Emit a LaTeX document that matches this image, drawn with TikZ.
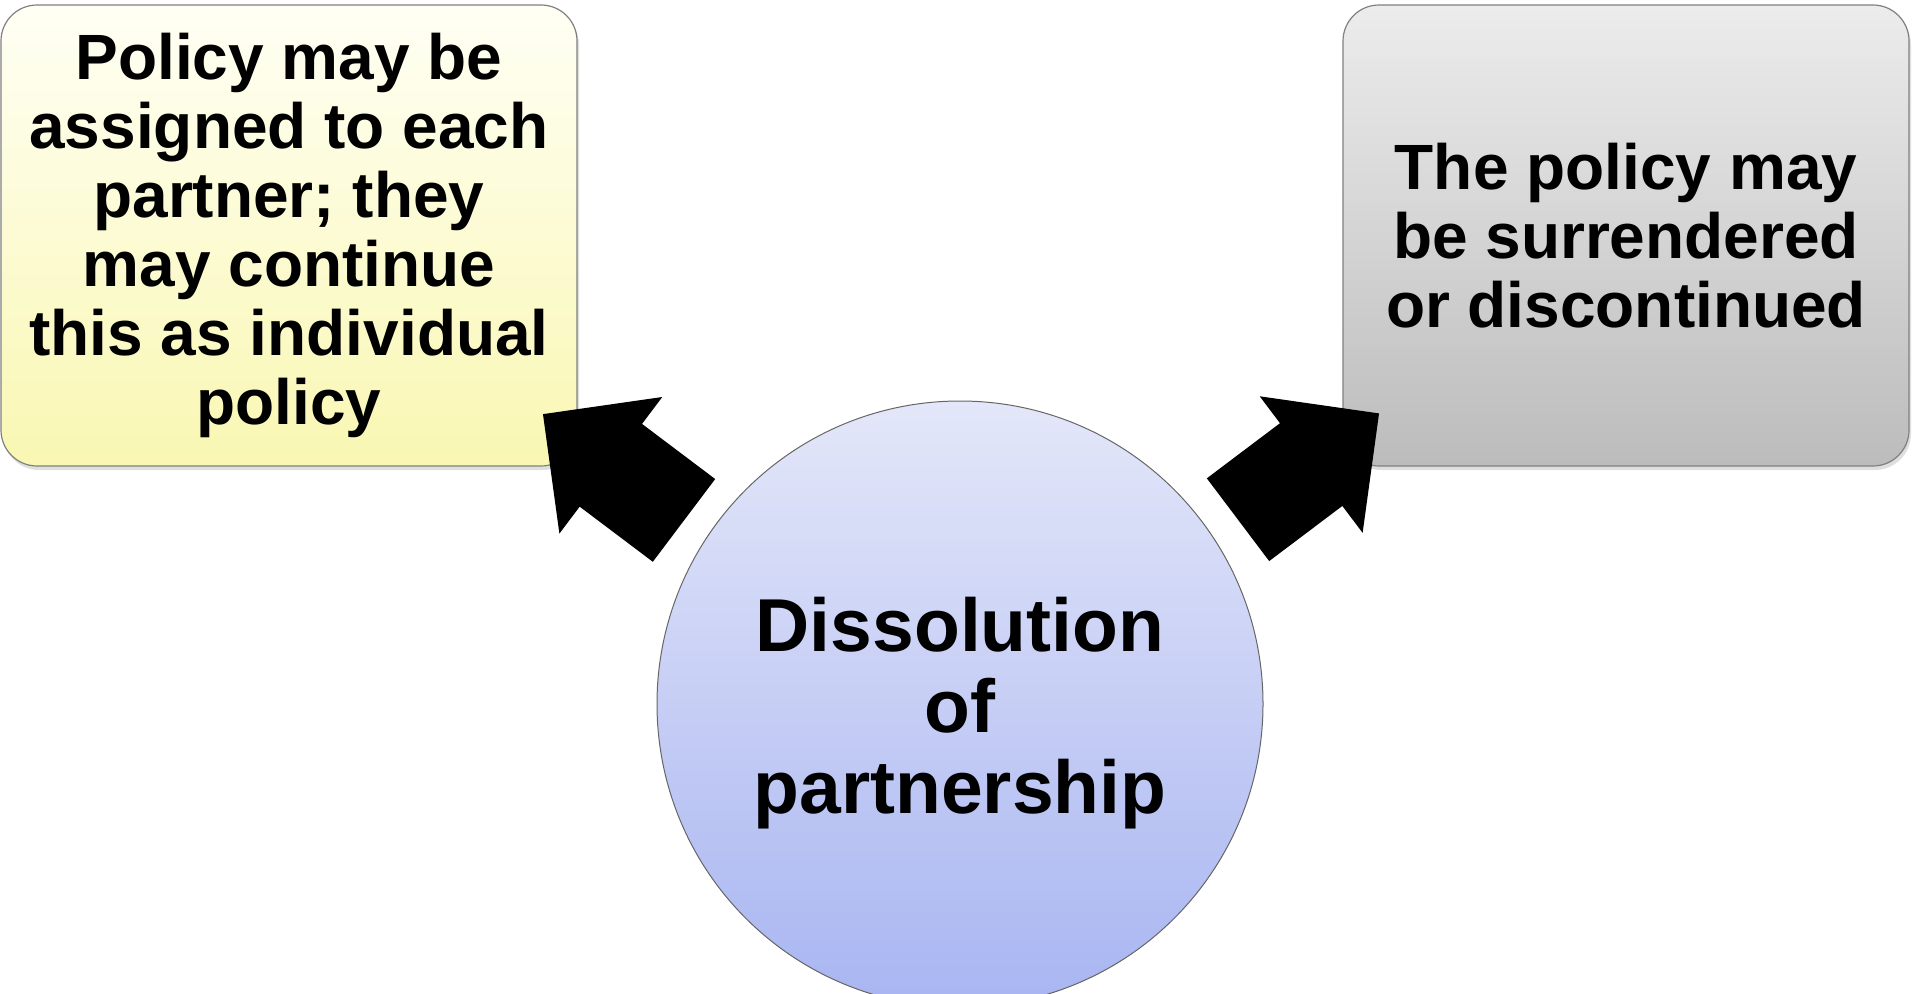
\documentclass[tikz,border=0pt]{standalone}
\usepackage{fontspec}
\setmainfont{Liberation Sans}
\usetikzlibrary{shadows}
\definecolor{boxline}{RGB}{128,128,128}
\tikzset{
  choice/.style={draw=boxline,line width=1.2pt,rounded corners=36pt,align=center,
    font=\fontsize{64}{69}\selectfont\bfseries,
    drop shadow={opacity=0.25,shadow xshift=2pt,shadow yshift=-4pt}},
  blockarrow/.pic={\fill[black] (0,-51.8) -- (91.6,-51.8) -- (91.6,-85.5) -- (176.6,0)
    -- (91.6,85.5) -- (91.6,51.8) -- (0,51.8) -- cycle;}
}
\begin{document}
\begin{tikzpicture}[x=1pt,y=-1pt]
\useasboundingbox (0,0) rectangle (1913,993);
\clip (0,0) rectangle (1913,993);
\node[choice,minimum width=576,minimum height=461,top color=yellow!4,bottom color={rgb,255:red,249;green,247;blue,178}]
  (assign) at (289,235.5) {Policy may be\\assigned to each\\partner; they\\may continue\\this as individual\\policy};
\node[choice,minimum width=566,minimum height=461,top color={rgb,255:red,236;green,236;blue,236},bottom color={rgb,255:red,188;green,188;blue,188}]
  (surrender) at (1626,235.5) {The policy may\\be surrendered\\or discontinued};
\node[circle,draw=black!60,line width=1pt,minimum size=606,
  top color={rgb,255:red,228;green,231;blue,249},bottom color={rgb,255:red,168;green,181;blue,241}] (dissolve) at (960,704) {};
\node[align=center,font=\fontsize{75}{81}\selectfont\bfseries] (dissolvetext) at ([yshift=-9pt]dissolve.center) {Dissolution\\of\\partnership};
% block arrows from the circle out to the two boxes
\coordinate (toassign) at (684,520.4);
\coordinate (tosurrender) at (1238,519.7);
\pic[rotate=143] at (toassign) {blockarrow};
\pic[rotate=37] at (tosurrender) {blockarrow};
\end{tikzpicture}
\end{document}
